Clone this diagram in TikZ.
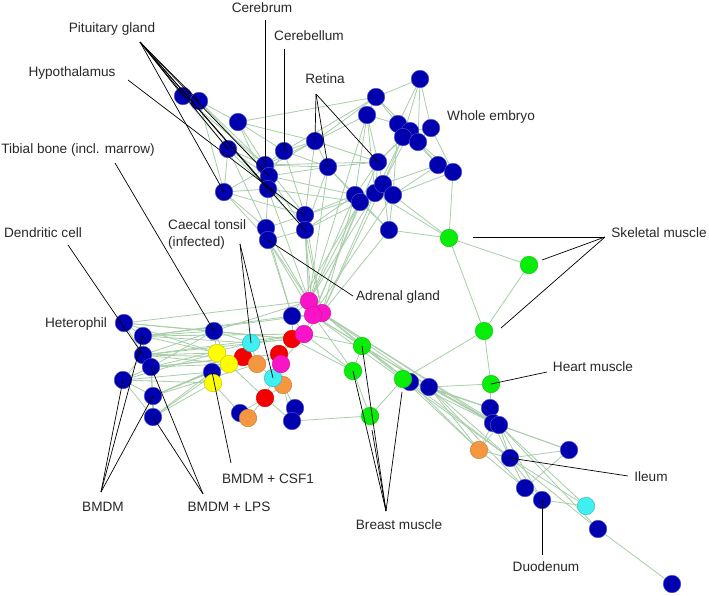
\documentclass[tikz,border=0pt]{standalone}
\usepackage{fontspec}
\setmainfont{Liberation Sans}
\usetikzlibrary{backgrounds}
\definecolor{nblue}{RGB}{0,0,175}
\definecolor{ngreen}{RGB}{10,236,10}
\definecolor{nmag}{RGB}{250,20,200}
\definecolor{nred}{RGB}{245,0,0}
\definecolor{ncyan}{RGB}{64,240,240}
\definecolor{norange}{RGB}{245,150,65}
\definecolor{nyellow}{RGB}{255,255,0}
\definecolor{edgecol}{RGB}{168,206,168}
\definecolor{txtcol}{RGB}{40,40,40}
\tikzset{
  nd/.style={circle, minimum size=17.5pt, inner sep=0pt, line width=0.5pt},
  bl/.style={nd, fill=nblue, draw=nblue!70!white},
  gr/.style={nd, fill=ngreen, draw=ngreen!85!black},
  mg/.style={nd, fill=nmag, draw=nmag!85!black},
  rd/.style={nd, fill=nred, draw=nred!85!black},
  cy/.style={nd, fill=ncyan, draw=ncyan!80!black},
  og/.style={nd, fill=norange, draw=norange!85!black},
  ye/.style={nd, fill=nyellow, draw=nyellow!80!black},
  edge/.style={draw=edgecol, line width=0.8pt},
  lead/.style={draw=black, line width=0.7pt},
  lbl/.style={font=\fontsize{13.6}{17}\selectfont, text=txtcol, inner sep=0pt}
}
\begin{document}
\begin{tikzpicture}[x=1pt,y=-1pt]
\useasboundingbox (0,0) rectangle (709,595);
% blue nodes
\node[bl] (b1) at (183,96) {};
\node[bl] (b2) at (199,101) {};
\node[bl] (b3) at (238,122) {};
\node[bl] (b4) at (228,149) {};
\node[bl] (b5) at (284,151) {};
\node[bl] (b6) at (265,165) {};
\node[bl] (b7) at (269,176) {};
\node[bl] (b8) at (268,189) {};
\node[bl] (b9) at (224,192) {};
\node[bl] (b10) at (266,228) {};
\node[bl] (b11) at (268,240) {};
\node[bl] (b12) at (305,215) {};
\node[bl] (b13) at (305,230) {};
\node[bl] (b14) at (420,79) {};
\node[bl] (b15) at (376,97) {};
\node[bl] (b16) at (367,115) {};
\node[bl] (b17) at (398,124) {};
\node[bl] (b18) at (410,131) {};
\node[bl] (b19) at (403,137) {};
\node[bl] (b20) at (418,142) {};
\node[bl] (b21) at (431,128) {};
\node[bl] (b22) at (315,141) {};
\node[bl] (b23) at (328,167) {};
\node[bl] (b24) at (378,162) {};
\node[bl] (b25) at (438,165) {};
\node[bl] (b26) at (453,172) {};
\node[bl] (b27) at (355,195) {};
\node[bl] (b28) at (360,202) {};
\node[bl] (b29) at (375,193) {};
\node[bl] (b30) at (383,184) {};
\node[bl] (b31) at (393,195) {};
\node[bl] (b32) at (389,230) {};
\node[bl] (b33) at (292,316) {};
\node[bl] (b34) at (124,323) {};
\node[bl] (b35) at (143,336) {};
\node[bl] (b36) at (143,355) {};
\node[bl] (b37) at (151,367) {};
\node[bl] (b38) at (123,380) {};
\node[bl] (b39) at (153,396) {};
\node[bl] (b40) at (153,417) {};
\node[bl] (b41) at (214,331) {};
\node[bl] (b42) at (212,372) {};
\node[bl] (b43) at (240,413) {};
\node[bl] (b44) at (295,408) {};
\node[bl] (b45) at (292,421) {};
\node[bl] (b46) at (410,382) {};
\node[bl] (b47) at (429,387) {};
\node[bl] (b48) at (490,408) {};
\node[bl] (b49) at (493,423) {};
\node[bl] (b50) at (499,425) {};
\node[bl] (b51) at (510,458) {};
\node[bl] (b52) at (569,450) {};
\node[bl] (b53) at (525,488) {};
\node[bl] (b54) at (542,500) {};
\node[bl] (b55) at (598,529) {};
\node[bl] (b56) at (672,584) {};
% red
\node[rd] (r1) at (292,339) {};
\node[rd] (r2) at (279,354) {};
\node[rd] (r3) at (243,357) {};
\node[rd] (r4) at (265,398) {};
% orange
\node[og] (o1) at (257,364) {};
\node[og] (o2) at (283,385) {};
\node[og] (o3) at (248,418) {};
\node[og] (o4) at (479,450) {};
% cyan
\node[cy] (c1) at (251,343) {};
\node[cy] (c2) at (273,378) {};
\node[cy] (c3) at (586,506) {};
% yellow
\node[ye] (y1) at (217,353) {};
\node[ye] (y2) at (229,364) {};
\node[ye] (y3) at (213,383) {};
% magenta
\node[mg] (m1) at (309,301) {};
\node[mg] (m3) at (322,313) {};
\node[mg] (m2) at (313,315) {};
\node[mg] (m4) at (304,334) {};
\node[mg] (m5) at (281,364) {};
% green
\node[gr] (g1) at (449,238) {};
\node[gr] (g2) at (529,265) {};
\node[gr] (g3) at (484,331) {};
\node[gr] (g4) at (491,384) {};
\node[gr] (g5) at (362,346) {};
\node[gr] (g6) at (353,371) {};
\node[gr] (g7) at (403,379) {};
\node[gr] (g8) at (370,416) {};

\begin{pgfonlayer}{background}
\fill[white] (0,0) rectangle (709,595);
\foreach \a/\b in {b1/b2, b1/b4, b1/b6, b2/b3, b2/b6, b2/b7, b2/b9, b3/b5, b3/b6, b3/b22, b3/b8, b4/b6, b4/b7, b4/b9, b4/b8, b4/b10, b5/b6, b5/b22, b5/b23, b5/b7, b5/b12, b5/b15, b6/b22, b6/b23, b6/b12, b7/b8, b7/b23, b7/b13, b8/b10, b8/b12, b8/b13, b9/b10, b9/b11, b9/b8, b10/b11, b10/b12, b11/b13, b12/b13, b12/b27, b12/b22, b13/b28, b13/b23, b22/b15, b22/b16, b22/b24, b22/b23, b23/b24, b23/b27, b23/b28, b15/b14, b15/b16, b15/b17, b15/b18, b14/b17, b14/b21, b14/b19, b14/b20, b16/b24, b16/b27, b16/b29, b16/b17, b17/b18, b17/b19, b17/b25, b18/b19, b18/b20, b18/b21, b18/b24, b19/b20, b19/b24, b19/b30, b20/b21, b20/b25, b20/b26, b21/b26, b25/b26, b25/b31, b25/b30, b24/b29, b24/b30, b24/b27, b27/b28, b27/b29, b28/b30, b29/b30, b29/b31, b30/b31, b31/b32, b30/b32, b28/b32, b27/b32, b19/b29, b18/b30, b17/b31, b26/b31, b3/b15, b6/b24, b7/b27, b8/b28, b12/b29, b13/b27, b9/b12, b9/b22}
  \draw[edge] (\a) -- (\b);
\foreach \a/\b in {b10/m1, b11/m1, b11/m2, b12/m1, b12/m3, b13/m1, b13/m2, b13/m3, b27/m1, b27/m3, b28/m1, b28/m2, b29/m3, b30/m3, b32/m3, b31/m2, b8/m1, b11/b33, b10/b33, b16/m1, b24/m2, b28/b33, b29/m1, b23/m1}
  \draw[edge] (\a) -- (\b);
\foreach \a/\b in {g1/g2, g1/g3, g2/g3, g3/g4, g3/g7, g1/b32, g1/b31, g1/b29, g1/b26}
  \draw[edge] (\a) -- (\b);
\foreach \a/\b in {m1/m2, m1/m3, m2/m3, m2/m4, m3/m4, m1/b33, m2/b33, b33/r1, b33/m4, m4/r1, r1/c1, r1/r2, m4/r2, r2/m5, m4/m5, r2/c2, m5/c2, m5/o2, c2/o2, c2/r4, o2/r4, r4/o3, r4/b43, o3/b43, o2/b44, o2/b45, b44/b45, r4/b45, c1/r3, c1/o1, r3/o1, o1/r2, o1/c2, r3/y2, y1/y2, y1/b41, y2/b41, b41/c1, y1/b42, y2/b42, b42/y3, y3/b43, y2/r4, m3/g5, m2/g5, m4/g5, m2/g6, g5/g6, g5/g7, g6/g8, g8/g7, b45/g8, g7/b46, b46/b47, g5/b46, m3/b46, m3/b47, m2/b47, r1/g6, m4/g6, b41/m1, b41/r1, c1/m4}
  \draw[edge] (\a) -- (\b);
\foreach \a/\b in {b34/b35, b35/b36, b36/b37, b34/b36, b36/b38, b37/b38, b37/b39, b38/b39, b39/b40, b37/b40, b38/b40, b34/b41, b35/b41, b36/b41, b37/b41, b34/y1, b35/y1, b36/y1, b36/y2, b37/y2, b35/c1, b36/r3, b37/r3, b38/y3, b38/b42, b39/y2, b39/b42, b40/y3, b40/b42, b34/m1, b35/b33, b35/m4, b36/r1, b36/m4, b37/c1, b34/r1, b35/m2, b39/r3, b38/y1, b40/y2, b39/o1, b37/r2}
  \draw[edge] (\a) -- (\b);
\foreach \a/\b in {b47/b48, b47/b49, b47/b50, b47/b51, b47/b53, b46/b48, b46/b49, b46/b51, b46/o4, b47/o4, m3/b49, b48/b49, b48/b50, b49/b50, b49/o4, b50/o4, b49/b51, b50/b51, b50/b52, b49/b52, b51/b52, o4/b51, o4/b53, b51/b53, b51/b54, b51/c3, b50/b54, b50/c3, b53/b54, b53/b52, b54/c3, b51/b55, b50/b55, b55/b56, g4/b48, g4/b47, g7/b47, g7/b48, m3/b50, m2/b51, g5/b49, g7/o4}
  \draw[edge] (\a) -- (\b);
\end{pgfonlayer}

% labels
\node[lbl] (tPit) at (112,29) {Pituitary gland};
\node[lbl] (tHyp) at (72,73) {Hypothalamus};
\node[lbl] (tCrb) at (262,8) {Cerebrum};
\node[lbl] (tCbl) at (309,36) {Cerebellum};
\node[lbl] (tRet) at (325,79) {Retina};
\node[lbl] (tEmb) at (491,117) {Whole embryo};
\node[lbl] (tTib) at (78,150) {Tibial bone (incl. marrow)};
\node[lbl] (tDen) at (43,233) {Dendritic cell};
\node[lbl] (tHet) at (76,324) {Heterophil};
\node[lbl, align=left, anchor=west] (tCae) at (168,234) {Caecal tonsil\\(infected)};
\node[lbl] (tAdr) at (398,297) {Adrenal gland};
\node[lbl] (tSkm) at (659,233) {Skeletal muscle};
\node[lbl] (tHrt) at (593,367) {Heart muscle};
\node[lbl] (tIle) at (651,477) {Ileum};
\node[lbl] (tDuo) at (546,567) {Duodenum};
\node[lbl] (tBre) at (399,525) {Breast muscle};
\node[lbl] (tBM) at (103,507) {BMDM};
\node[lbl] (tLPS) at (229,507) {BMDM + LPS};
\node[lbl] (tCSF) at (268,479) {BMDM + CSF1};

% leader line anchor points
\coordinate (cPit) at (140,42);
\coordinate (cHyp) at (128,80);
\coordinate (cCrb) at (265,20);
\coordinate (cCbl) at (284,49);
\coordinate (cRet) at (316,94);
\coordinate (cTib) at (115,163);
\coordinate (cDen) at (68,245);
\coordinate (cCae) at (240,244);
\coordinate (cAdr) at (353,296);
\coordinate (cSkm) at (605,237);
\coordinate (eSk1) at (473,237);
\coordinate (eSk2) at (542,260);
\coordinate (eSk3) at (501,328);
\coordinate (cHrt) at (547,372);
\coordinate (cIle) at (628,476);
\coordinate (cDuo) at (542,555);
\coordinate (cBre) at (386,511);
\coordinate (eBr1) at (372,430);
\coordinate (eBr2) at (402,392);
\coordinate (cBM) at (101,492);
\coordinate (cLPS) at (203,494);
\coordinate (cCSF) at (231,463);

\foreach \n in {b1,b2,b4,b9,b7,b8,b13}
  \draw[lead] (cPit) -- (\n.center);
\draw[lead] (cHyp) -- (b12.center);
\draw[lead] (cCrb) -- (b6.center);
\draw[lead] (cCbl) -- (b5.center);
\foreach \n in {b22,b23,b24}
  \draw[lead] (cRet) -- (\n.center);
\draw[lead] (cTib) -- (b41.center);
\draw[lead] (cDen) -- (b36.center);
\foreach \n in {c1,c2}
  \draw[lead] (cCae) -- (\n.center);
\draw[lead] (cAdr) -- (b11.center);
\draw[lead] (cSkm) -- (eSk1);
\draw[lead] (cSkm) -- (eSk2);
\draw[lead] (cSkm) -- (eSk3);
\draw[lead] (cHrt) -- (g4.center);
\draw[lead] (cIle) -- (b51.center);
\draw[lead] (cDuo) -- (b54.center);
\draw[lead] (cBre) -- (g5.center);
\draw[lead] (cBre) -- (g6.center);
\draw[lead] (cBre) -- (eBr1);
\draw[lead] (cBre) -- (eBr2);
\foreach \n in {b38,b35,b39}
  \draw[lead] (cBM) -- (\n.center);
\foreach \n in {b40,b37}
  \draw[lead] (cLPS) -- (\n.center);
\draw[lead] (cCSF) -- (b42.center);
\end{tikzpicture}
\end{document}
